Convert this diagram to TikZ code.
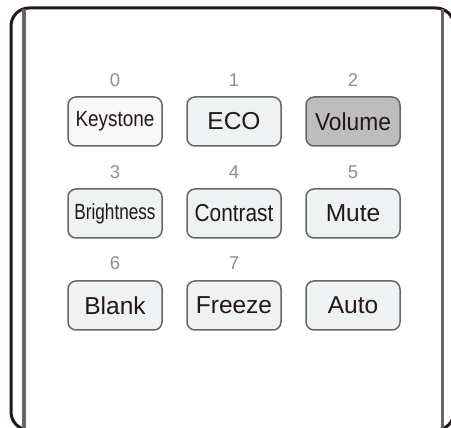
\documentclass[tikz,border=0pt]{standalone}
\usepackage{fontspec}
\setmainfont{Liberation Sans}
\usepackage{graphicx}
\definecolor{ink}{HTML}{231815}
\definecolor{rim}{HTML}{666666}
\definecolor{btnfill}{HTML}{EEF2F3}
\definecolor{keyfill}{HTML}{F8F8F8}
\definecolor{volfill}{HTML}{BDBDBD}
\definecolor{numgray}{HTML}{8E8E8E}
\newcommand{\sq}[2]{\scalebox{#1}[1]{#2}}
\begin{document}
\begin{tikzpicture}[x=1pt,y=-1pt,
  btn/.style={draw=rim, line width=1.5pt, rounded corners=8pt, fill=btnfill,
    minimum width=94pt, minimum height=49pt, inner sep=0pt, text=ink,
    font=\fontsize{24.5}{29}\selectfont},
  num/.style={text=numgray, inner sep=0pt, font=\fontsize{18.5}{22}\selectfont}]
\useasboundingbox (0,0) rectangle (451,428);
\begin{scope}
\clip (0,0) rectangle (451,428);
\draw[ink, line width=3pt, rounded corners=18pt] (11,8) rectangle (454,430);
\draw[rim, line width=3.2pt] (24,9.5) -- (24,430);
\draw[rim, line width=3pt] (442,9.5) -- (442,430);
\end{scope}
% row 1
\node[btn, fill=keyfill] (b0) at (115,121.5) {\fontsize{22}{26}\selectfont\sq{0.86}{Keystone}};
\node[btn] (b1) at (234,121.5) {ECO};
\node[btn, fill=volfill] (b2) at (353,121.5) {\sq{0.93}{Volume}};
% row 2
\node[btn] (b3) at (115,213.5) {\fontsize{22}{26}\selectfont\sq{0.78}{Brightness}};
\node[btn] (b4) at (234,213.5) {\sq{0.85}{Contrast}};
\node[btn] (b5) at (353,213.5) {Mute};
% row 3
\node[btn] (b6) at (115,305.5) {Blank};
\node[btn] (b7) at (234,305.5) {Freeze};
\node[btn] (b8) at (353,305.5) {Auto};
% numbers
\node[num] (n0) at (115,80.5) {0};
\node[num] (n1) at (234,80.5) {1};
\node[num] (n2) at (353,80.5) {2};
\node[num] (n3) at (115,172) {3};
\node[num] (n4) at (234,172) {4};
\node[num] (n5) at (353,172) {5};
\node[num] (n6) at (115,263.5) {6};
\node[num] (n7) at (234,263.5) {7};
\end{tikzpicture}
\end{document}
